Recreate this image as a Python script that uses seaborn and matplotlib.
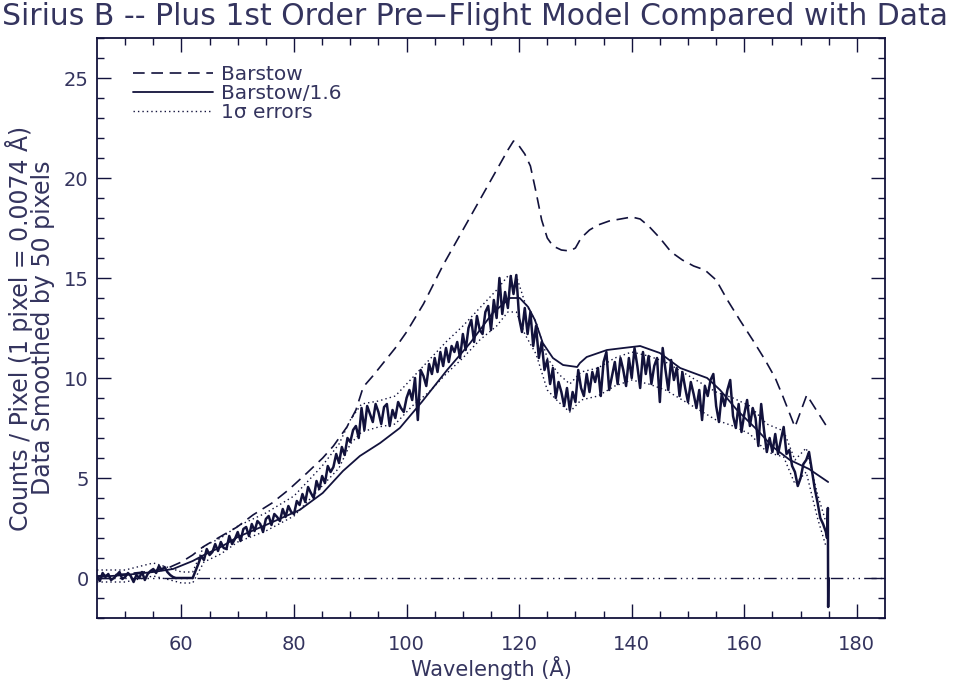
import numpy as np
import pandas as pd
import matplotlib
matplotlib.use("Agg")
import matplotlib.pyplot as plt
import seaborn as sns

# ---------------- data ----------------
title = "Sirius B -- Plus 1st Order Pre\u2212Flight Model Compared with Data"
xlabel = "Wavelength (\u00c5)"
ylabel = "Counts / Pixel (1 pixel = 0.0074 \u00c5)\nData Smoothed by 50 pixels"
legend_labels = ["Barstow", "Barstow/1.6", "1\u03c3 errors"]

x_ticks = [60, 80, 100, 120, 140, 160, 180]
y_ticks = [0, 5, 10, 15, 20, 25]

barstow_x = [45, 50, 55, 58, 60, 62, 63.8, 66.8, 69.9, 72.7, 76.1, 79, 82.3, 85.1, 87,
             89.4, 91, 92.3, 94, 96, 98, 100, 103, 106.5, 110, 113, 116, 118, 119, 120,
             121, 122, 123, 124, 125, 126, 127.5, 129, 130, 131, 132.5, 134, 136, 138,
             140, 141.5, 143, 145, 147, 149, 151, 153, 155, 157, 159.2, 161.5, 163.7,
             165.5, 166.9, 169, 171.1, 174.7]
barstow_y = [0.1, 0.2, 0.35, 0.55, 0.8, 1.15, 1.55, 2.05, 2.55, 3.15, 3.75, 4.4, 5.25, 6.0, 6.6,
             7.55, 8.4, 9.55, 10.1, 10.8, 11.5, 12.3, 13.7, 15.65, 17.4, 18.9, 20.4, 21.4, 21.85, 21.6,
             21.2, 20.6, 19.3, 17.9, 17.0, 16.6, 16.4, 16.35, 16.5, 17.0, 17.4, 17.65, 17.85, 17.95,
             18.05, 17.95, 17.6, 17.0, 16.3, 15.9, 15.6, 15.4, 14.9, 13.9, 12.9, 11.9, 10.9,
             10.0, 9.05, 7.55, 9.15, 7.55]

scaled_x = [45, 50, 55, 58.5, 62, 64, 67, 70, 75, 81, 85.1, 88.7, 91.7, 95.3, 98.8, 102.7,
            107.2, 111.3, 115.3, 118.4, 120.1, 121.6, 122.8, 124.2, 126, 127.8, 130.3, 130.8,
            132, 135.6, 138.5, 141.5, 145, 148.6, 153.4, 155.7, 158.7, 162.3, 165.1, 168.1,
            171.5, 174.9]
scaled_y = [0.05, 0.15, 0.3, 0.45, 0.85, 1.15, 1.55, 2.05, 2.65, 3.4, 4.25, 5.35, 6.1, 6.75, 7.5, 8.8,
            10.4, 11.75, 13.25, 14.0, 14.0, 13.55, 12.9, 11.75, 11.0, 10.65, 10.55, 10.75,
            11.05, 11.4, 11.5, 11.6, 11.25, 10.5, 10.0, 9.4, 8.4, 7.4, 6.55, 5.9,
            5.45, 4.8]

# smoothed counts, one value every 0.5 A from 45.0 to 174.5
data_start, data_step = 45.0, 0.5
data_y = [
    0.1, -0.15, 0.25, 0.05, 0.2, -0.1, 0.0, 0.15, 0.3, -0.05,
    0.05, 0.25, 0.1, -0.2, 0.15, 0.0, 0.3, -0.1, 0.2, 0.35,
    0.45, 0.25, 0.6, 0.4, 0.55, 0.3, 0.15, 0.05, 0.0, 0.0,
    0.0, 0.0, 0.0, 0.0, 0.0, 0.35, 0.7, 1.1, 0.9, 1.45,
    1.15, 1.3, 1.7, 1.35, 1.8, 1.5, 1.45, 2.1, 1.7, 1.95,
    2.3, 1.85, 2.45, 2.55, 2.1, 2.7, 2.35, 2.85, 2.7, 2.3,
    2.95, 3.1, 2.65, 3.2, 3.05, 2.85, 3.45, 3.05, 3.6, 3.3,
    3.2, 3.85, 3.65, 4.2, 3.8, 4.55, 4.25, 4.0, 4.85, 4.45,
    5.1, 4.75, 5.6, 5.3, 5.55, 6.2, 5.75, 6.55, 6.15, 7.0,
    6.8, 7.4, 7.6, 7.0, 8.5, 7.4, 8.6, 8.2, 7.8, 8.7,
    8.3, 7.7, 8.55, 8.7, 7.6, 8.4, 8.0, 8.8, 8.5, 8.3,
    9.0, 9.4, 8.9, 10.0, 7.9, 10.4, 10.1, 9.6, 10.7, 10.2,
    11.0, 10.3, 11.3, 10.6, 11.5, 10.8, 11.6, 11.3, 11.8, 11.0,
    12.2, 11.4, 12.5, 12.9, 11.8, 13.1, 12.4, 12.2, 13.3, 13.6,
    12.4, 13.9, 13.0, 15.0, 13.2, 14.3, 13.5, 15.1, 14.2, 15.15,
    13.0, 12.3, 13.5, 12.2, 13.3, 11.6, 12.6, 11.0, 11.8, 10.4,
    10.9, 9.7, 10.5, 9.0, 9.8, 9.3, 8.6, 9.5, 8.4, 9.3,
    8.8, 10.4, 9.5, 9.1, 10.2, 9.3, 10.3, 9.8, 10.5, 9.1,
    10.8, 11.3, 9.4, 10.1, 10.8, 9.7, 11.0, 10.4, 9.6, 11.0,
    10.0, 11.5, 10.6, 9.5, 11.3, 10.2, 11.1, 9.7, 10.6, 11.0,
    8.8, 11.5, 10.4, 9.4, 10.9, 9.9, 10.5, 9.1, 10.3, 9.5,
    8.8, 9.8, 9.2, 8.5, 9.4, 7.9, 9.6, 9.1, 9.9, 10.2,
    8.6, 7.8, 9.2, 8.6, 9.4, 9.9, 8.1, 7.5, 8.7, 7.3,
    8.2, 8.9, 7.6, 8.5, 8.0, 6.6, 8.7, 7.4, 6.3, 7.0,
    6.3, 7.2, 6.2, 6.9, 7.55, 6.2, 6.4, 5.6, 5.3, 4.6,
    5.0, 5.7, 5.9, 6.3, 5.4, 4.5, 3.8, 3.0, 2.7, 2.3,
]
tail_x = [174.7, 174.85, 174.9, 174.95]
tail_y = [2.0, 3.5, -1.45, 0.0]

err_x = [45, 50, 55, 58, 60, 62, 64, 67, 70, 75, 80, 85, 88, 90, 92, 95, 98, 101, 104, 107,
         110, 113, 116, 118, 119.5, 121, 123, 125, 127, 129, 131, 134, 137, 140, 143, 146,
         149, 152, 155, 158, 161, 164, 167, 169, 171, 173, 174.5]
err_hi = [0.4, 0.4, 0.75, 0.5, 0.3, 0.3, 1.6, 2.0, 2.6, 3.25, 4.1, 5.6, 6.7, 7.9, 8.7, 8.85, 9.1, 10.0, 10.9, 11.8,
          12.6, 13.5, 14.4, 15.1, 15.1, 13.8, 12.8, 11.0, 10.2, 9.7, 10.3, 10.5, 11.0, 11.3, 11.1, 10.8,
          10.3, 9.8, 9.3, 9.0, 8.6, 7.7, 7.35, 5.9, 6.5, 4.2, 2.8]
err_lo = [-0.2, -0.2, 0.1, -0.1, -0.25, -0.25, 0.8, 1.2, 1.8, 2.35, 3.1, 4.6, 5.5, 6.7, 7.3, 7.55, 7.7, 8.6, 9.3, 10.2,
          11.0, 11.9, 12.6, 13.3, 13.3, 12.2, 11.2, 9.4, 8.8, 8.3, 8.9, 9.1, 9.6, 9.9, 9.7, 9.4,
          8.9, 8.4, 7.9, 7.6, 7.2, 6.3, 6.05, 4.7, 5.3, 3.0, 1.6]

# ---------------- tables ----------------
data_x = data_start + data_step * np.arange(len(data_y))
df_data = pd.DataFrame({"x": np.concatenate([data_x, tail_x]),
                        "y": np.concatenate([data_y, tail_y])})
df_bar = pd.DataFrame({"x": barstow_x, "y": barstow_y})
df_scl = pd.DataFrame({"x": scaled_x, "y": scaled_y})
df_hi = pd.DataFrame({"x": err_x, "y": err_hi})
df_lo = pd.DataFrame({"x": err_x, "y": err_lo})

# ---------------- style ----------------
sns.set_theme(style="ticks")
plt.rcParams["font.family"] = ["DejaVu Sans"]
ink = "#12123c"
txt = "#34345e"
plt.rcParams["text.color"] = txt
plt.rcParams["axes.labelcolor"] = txt
plt.rcParams["xtick.color"] = ink
plt.rcParams["ytick.color"] = ink
plt.rcParams["xtick.labelcolor"] = txt
plt.rcParams["ytick.labelcolor"] = txt

fig = plt.figure(figsize=(9.56, 6.88), dpi=100)
fig.patch.set_facecolor("white")
ax = fig.add_axes([97 / 956, 70 / 688, 788 / 956, 580 / 688])
ax.set_facecolor("white")

ax.axhline(0, color=ink, lw=1.0, dashes=(9, 3, 1, 3, 1, 3, 1, 3), zorder=1)

sns.lineplot(data=df_hi, x="x", y="y", ax=ax, color=ink, lw=1.0,
             linestyle=(0, (1, 2.2)), estimator=None, sort=False, label=legend_labels[2], zorder=2)
sns.lineplot(data=df_lo, x="x", y="y", ax=ax, color=ink, lw=1.0,
             linestyle=(0, (1, 2.2)), estimator=None, sort=False, label="_nolegend_", zorder=2)
sns.lineplot(data=df_data, x="x", y="y", ax=ax, color=ink, lw=1.8,
             estimator=None, sort=False, label="_nolegend_", zorder=3)
sns.lineplot(data=df_scl, x="x", y="y", ax=ax, color=ink, lw=1.3,
             estimator=None, sort=False, label=legend_labels[1], zorder=4)
sns.lineplot(data=df_bar, x="x", y="y", ax=ax, color=ink, lw=1.2,
             linestyle=(0, (7, 4)), estimator=None, sort=False, label=legend_labels[0], zorder=4)

ax.set_xlim(45, 185)
ax.set_ylim(-2, 27)
ax.set_xticks(x_ticks)
ax.set_yticks(y_ticks)
ax.set_xticks(np.arange(50, 185, 5), minor=True)
ax.set_yticks(np.arange(-2, 28, 1), minor=True)
ax.tick_params(which="both", direction="in", top=True, right=True, width=1.0)
ax.tick_params(which="major", length=10, labelsize=14)
ax.tick_params(axis="x", which="major", pad=12)
ax.tick_params(axis="y", which="major", pad=6)
ax.tick_params(which="minor", length=5)
for s in ax.spines.values():
    s.set_color(ink)
    s.set_linewidth(1.3)

ax.set_xlabel(xlabel, fontsize=15, labelpad=2)
ax.set_ylabel(ylabel, fontsize=17, labelpad=6, linespacing=0.92)
fig.text(0.497, 0.997, title, ha="center", va="top", fontsize=21.5, color=txt)

h, l = ax.get_legend_handles_labels()
order = [l.index(s) for s in legend_labels]
leg = ax.legend([h[i] for i in order], [l[i] for i in order], loc="upper left",
                bbox_to_anchor=(0.035, 0.968), frameon=False, fontsize=14.5,
                handlelength=4.0, handletextpad=0.4, labelspacing=0.0, borderaxespad=0)
for t in leg.get_texts():
    t.set_color(txt)

fig.savefig("out.png", dpi=100, facecolor="white")
